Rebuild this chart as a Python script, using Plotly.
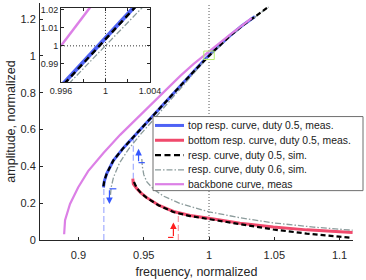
import plotly.graph_objects as go

# ---------------- data ----------------
# backbone curve, measured
backbone_f = [0.8890, 0.8897, 0.8935, 0.8997, 0.9074, 0.9191, 0.9319, 0.9446, 0.9600, 0.9778, 0.9880, 1.0000, 1.0161, 1.0327]
backbone_a = [0.031, 0.107, 0.196, 0.285, 0.374, 0.472, 0.571, 0.660, 0.770, 0.890, 0.955, 1.025, 1.115, 1.205]

# top response curve, duty 0.5, measured
top_f = [0.9191, 0.9198, 0.9217, 0.9267, 0.9344, 0.9446, 0.9548, 0.9625, 0.9778, 0.9890, 0.9969, 1.0033, 1.0161, 1.0250, 1.0352]
top_a = [0.285, 0.320, 0.362, 0.432, 0.500, 0.580, 0.656, 0.716, 0.835, 0.920, 0.982, 1.026, 1.110, 1.162, 1.214]

# bottom response curve, duty 0.5, measured
bot_f = [0.9416, 0.9420, 0.9446, 0.9480, 0.9523, 0.9612, 0.9727, 0.9855, 1.0000, 1.0237, 1.0492, 1.0748, 1.1100]
bot_a = [0.333, 0.305, 0.280, 0.255, 0.230, 0.190, 0.155, 0.133, 0.118, 0.091, 0.070, 0.055, 0.041]

# response curve, duty 0.5, simulated (upper and lower branch)
sim05_top_f = [0.9191, 0.9198, 0.9217, 0.9267, 0.9344, 0.9446, 0.9548, 0.9625, 0.9778, 0.9890, 0.9972, 1.0036, 1.0163, 1.0252, 1.0354, 1.0454]
sim05_top_a = [0.292, 0.322, 0.362, 0.432, 0.500, 0.580, 0.656, 0.716, 0.835, 0.920, 0.982, 1.026, 1.110, 1.162, 1.214, 1.266]
sim05_bot_f = [0.9425, 0.9446, 0.9480, 0.9523, 0.9612, 0.9727, 0.9855, 1.0000, 1.0237, 1.0492, 1.0748, 1.1050, 1.1090]
sim05_bot_a = [0.315, 0.282, 0.254, 0.229, 0.189, 0.152, 0.130, 0.114, 0.085, 0.057, 0.035, 0.014, 0.012]

# response curve, duty 0.6, simulated (upper and lower branch)
sim06_top_f = [0.9245, 0.9250, 0.9268, 0.9315, 0.9385, 0.9480, 0.9575, 0.9648, 0.9795, 0.9900, 0.9975, 1.0038, 1.0165, 1.0254, 1.0355, 1.0456]
sim06_top_a = [0.245, 0.285, 0.340, 0.420, 0.495, 0.578, 0.654, 0.714, 0.833, 0.918, 0.981, 1.023, 1.108, 1.160, 1.212, 1.265]
sim06_bot_f = [0.9485, 0.9489, 0.9500, 0.9524, 0.9576, 0.9652, 0.9778, 0.9900, 1.0000, 1.0237, 1.0492, 1.0800, 1.1100]
sim06_bot_a = [0.440, 0.400, 0.355, 0.315, 0.275, 0.238, 0.198, 0.172, 0.153, 0.121, 0.093, 0.070, 0.053]

# inset (zoom around f = 1, a = 1)
inset_backbone_f = [0.9960, 0.9987]
inset_backbone_a = [1.000, 1.022]
inset_top_f = [0.9962, 1.0040]
inset_top_a = [0.979, 1.031]
inset_sim05_f = [0.9963, 1.0041]
inset_sim05_a = [0.979, 1.031]
inset_sim06_f = [0.9967, 1.0040]
inset_sim06_a = [0.979, 1.0257]

# jump markers (frequency, amplitude from, amplitude to)
jump_blue = [(0.9194, 0.0, 0.285), (0.9420, 0.333, 0.553)]
jump_red = [(0.9765, 0.0, 0.145)]

legend_labels = ["top resp. curve, duty 0.5, meas.",
                 "bottom resp. curve, duty 0.5, meas.",
                 "resp. curve, duty 0.5, sim.",
                 "resp. curve, duty 0.6, sim.",
                 "backbone curve, meas"]

x_ticks = [0.9, 0.95, 1.0, 1.05, 1.1]
x_ticklabels = ["0.9", "0.95", "1", "1.05", "1.1"]
y_ticks = [0, 0.2, 0.4, 0.6, 0.8, 1.0, 1.2]
y_ticklabels = ["0", "0.2", "0.4", "0.6", "0.8", "1", "1.2"]
ix_ticks = [0.996, 0.998, 1.0, 1.002, 1.004]
ix_ticklabels = ["0.996", "", "1", "", "1.004"]
iy_ticks = [0.99, 1.0, 1.01, 1.02]
iy_ticklabels = ["0.99", "1", "1.01", "1.02"]
inset_xrange = [0.996, 1.004]
inset_yrange = [0.98, 1.021]

# ---------------- styles ----------------
BLUE = "#4e62f5"
RED = "#f04a6c"
BLACK = "#000000"
GRAY = "#8c9c9c"
VIOLET = "#dc80e6"
AX = "#262626"
FONT = "Liberation Sans, Arial, sans-serif"

st_top = dict(color=BLUE, width=3)
st_bot = dict(color=RED, width=3)
st_s05 = dict(color=BLACK, width=2.2, dash="5px,3px")
st_s06 = dict(color=GRAY, width=1.3, dash="6px,2px,1.5px,2px")
st_bb = dict(color=VIOLET, width=2.2)


def join(f1, a1, f2, a2):
    return f1 + [None] + f2, a1 + [None] + a2


fig = go.Figure()

fig.add_trace(go.Scatter(x=top_f, y=top_a, mode="lines", name=legend_labels[0], line=st_top))
fig.add_trace(go.Scatter(x=bot_f, y=bot_a, mode="lines", name=legend_labels[1], line=st_bot))
x06, y06 = join(sim06_top_f, sim06_top_a, sim06_bot_f, sim06_bot_a)
fig.add_trace(go.Scatter(x=x06, y=y06, mode="lines", name=legend_labels[3], line=st_s06))
x05, y05 = join(sim05_top_f, sim05_top_a, sim05_bot_f, sim05_bot_a)
fig.add_trace(go.Scatter(x=x05, y=y05, mode="lines", name=legend_labels[2], line=st_s05))
fig.add_trace(go.Scatter(x=backbone_f, y=backbone_a, mode="lines", name=legend_labels[4], line=st_bb))

# inset traces
fig.add_trace(go.Scatter(x=inset_top_f, y=inset_top_a, mode="lines", xaxis="x2", yaxis="y2",
                         line=dict(color=BLUE, width=4)))
fig.add_trace(go.Scatter(x=inset_sim06_f, y=inset_sim06_a, mode="lines", xaxis="x2", yaxis="y2",
                         line=st_s06))
fig.add_trace(go.Scatter(x=inset_sim05_f, y=inset_sim05_a, mode="lines", xaxis="x2", yaxis="y2",
                         line=dict(color=BLACK, width=2.4, dash="6px,4px")))
fig.add_trace(go.Scatter(x=inset_backbone_f, y=inset_backbone_a, mode="lines", xaxis="x2", yaxis="y2",
                         line=dict(color=VIOLET, width=2.5)))

shapes = []
annotations = []
# dotted reference line at f = 1 (main)
shapes.append(dict(type="line", xref="x", yref="paper", x0=1, x1=1, y0=0, y1=1,
                   line=dict(color="#555555", width=1, dash="1px,2px"), layer="below"))
# inset dotted cross hairs
shapes.append(dict(type="line", xref="x2", yref="y2", x0=1, x1=1, y0=inset_yrange[0], y1=inset_yrange[1],
                   line=dict(color="#333333", width=1, dash="1px,2px"), layer="below"))
shapes.append(dict(type="line", xref="x2", yref="y2", x0=inset_xrange[0], x1=inset_xrange[1], y0=1, y1=1,
                   line=dict(color="#333333", width=1, dash="1px,2px"), layer="below"))
# zoom rectangle on main plot
shapes.append(dict(type="rect", xref="x", yref="y", x0=inset_xrange[0], x1=inset_xrange[1],
                   y0=inset_yrange[0], y1=inset_yrange[1] + 0.005,
                   line=dict(color="#b4f06c", width=1), fillcolor="rgba(0,0,0,0)"))
# jump lines
for f, a0, a1 in jump_blue:
    shapes.append(dict(type="line", xref="x", yref="y", x0=f, x1=f, y0=a0, y1=a1,
                       line=dict(color="#a9b3ff", width=1.3, dash="6px,3px"), layer="below"))
for f, a0, a1 in jump_red:
    shapes.append(dict(type="line", xref="x", yref="y", x0=f, x1=f, y0=a0, y1=a1,
                       line=dict(color="#f7a3ad", width=1.3, dash="6px,3px"), layer="below"))

# sweep-direction arrows (L shaped)
arrows = [
    # (x, y_tail, y_head, x_stub, color)
    (0.9237, 0.278, 0.195, 0.9290, "#3557ff"),
    (0.9460, 0.420, 0.495, 0.9508, "#3557ff"),
    (0.9727, 0.014, 0.095, 0.9686, "#ff1e1e"),
]
for x, yt, yh, xs, c in arrows:
    shapes.append(dict(type="line", xref="x", yref="y", x0=x, x1=xs, y0=yt, y1=yt,
                       line=dict(color=c, width=1.2)))
    annotations.append(dict(x=x, y=yh, ax=x, ay=yt, xref="x", yref="y", axref="x", ayref="y",
                            showarrow=True, arrowhead=2, arrowsize=1.1, arrowwidth=1.2,
                            arrowcolor=c, text=""))

# ---- hand-built legend box (compact row spacing like the original) ----
PW, PH = 313.0, 240.0          # plot-area size in px
def px_x(px):
    return (px - 40) / PW
def px_y(py):
    return (240 - py) / PH

shapes.append(dict(type="rect", xref="paper", yref="paper",
                   x0=px_x(153), x1=px_x(363), y0=px_y(190), y1=px_y(115),
                   line=dict(color="#6e6e6e", width=1), fillcolor="white", layer="above"))
legend_styles = [st_top, st_bot, dict(color=BLACK, width=2.2, dash="6px,3.5px"), st_s06, st_bb]
row_y = [124, 139, 154, 169, 183.5]
for lab, sty, ry in zip(legend_labels, legend_styles, row_y):
    shapes.append(dict(type="line", xref="paper", yref="paper",
                       x0=px_x(155), x1=px_x(184), y0=px_y(ry), y1=px_y(ry),
                       line=sty, layer="above"))
    annotations.append(dict(x=px_x(186), y=px_y(ry), xref="paper", yref="paper",
                            xanchor="left", yanchor="middle", showarrow=False, text=lab,
                            font=dict(size=10.4, color="#1a1a1a")))

fig.update_layout(
    width=366, height=280,
    margin=dict(l=40, r=13, t=0, b=40),
    paper_bgcolor="white", plot_bgcolor="white",
    font=dict(family=FONT, size=11, color=AX),
    showlegend=False,
    hovermode=False,
    shapes=shapes,
    annotations=annotations,
    xaxis=dict(range=[0.8705, 1.1103], tickvals=x_ticks, ticktext=x_ticklabels,
               ticks="inside", ticklen=3, tickcolor=AX, showline=True, linecolor=AX, linewidth=1,
               showgrid=False, zeroline=False, ticklabelstandoff=5,
               title=dict(text="frequency, normalized", font=dict(size=12.5), standoff=7)),
    yaxis=dict(range=[0, 1.287], tickvals=y_ticks, ticktext=y_ticklabels,
               ticks="inside", ticklen=3, tickcolor=AX, showline=True, linecolor=AX, linewidth=1,
               showgrid=False, zeroline=False, ticklabelstandoff=1,
               title=dict(text="amplitude, normalized", font=dict(size=12.5), standoff=2)),
    xaxis2=dict(domain=[0.0671, 0.3514], anchor="y2", range=inset_xrange,
                tickvals=ix_ticks, ticktext=ix_ticklabels, tickfont=dict(size=9),
                ticks="inside", ticklen=3, tickcolor=AX, showline=True, linecolor=AX, linewidth=1,
                mirror="ticks", showgrid=False, zeroline=False),
    yaxis2=dict(domain=[0.667, 0.979], anchor="x2", range=inset_yrange,
                tickvals=iy_ticks, ticktext=iy_ticklabels, tickfont=dict(size=9),
                ticks="inside", ticklen=3, tickcolor=AX, showline=True, linecolor=AX, linewidth=1,
                mirror="ticks", showgrid=False, zeroline=False),
)

fig.write_html("out.html", config={"displayModeBar": False, "staticPlot": True},
               post_script="document.body.style.margin='0px';")
